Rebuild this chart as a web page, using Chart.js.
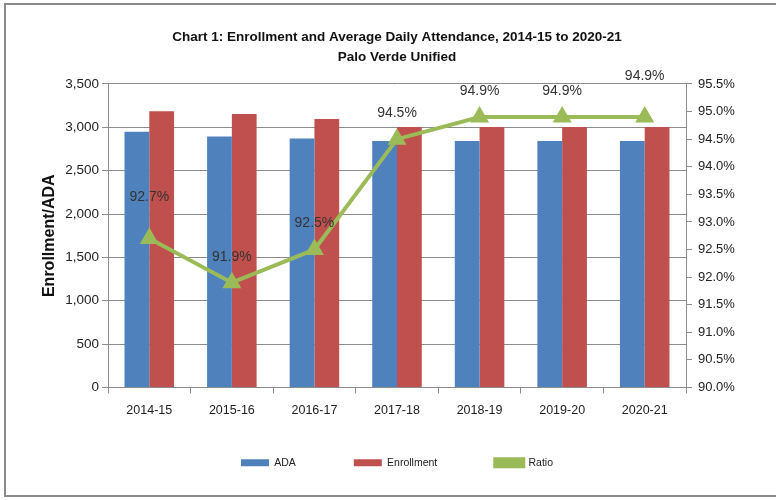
<!DOCTYPE html>
<html><head><meta charset="utf-8">
<script src="https://cdn.jsdelivr.net/npm/chart.js@4/dist/chart.umd.min.js"></script>
<style>html,body{margin:0;padding:0;background:#fff}#wrap{width:776px;height:500px}</style>
</head><body><div id="wrap"><canvas id="c" width="776" height="500"></canvas></div>
<script>
const categories = ['2014-15','2015-16','2016-17','2017-18','2018-19','2019-20','2020-21'];
const ada = [2950, 2895, 2872, 2842, 2842, 2842, 2842];
const enrollment = [3184, 3153, 3095, 3003, 3003, 3003, 3003];
const ratio = [92.7, 91.9, 92.5, 94.5, 94.9, 94.9, 94.9];
const titleLines = ['Chart 1: Enrollment and Average Daily Attendance, 2014-15 to 2020-21', 'Palo Verde Unified'];

const FONT = "'Liberation Sans', Arial, sans-serif";
const GRID = '#8c8c8c';
const TXT = '#222';

const frame = {
  id: 'frame',
  afterDraw(chart) {
    const ctx = chart.ctx;
    ctx.save();
    ctx.strokeStyle = '#8a8a8a';
    ctx.lineWidth = 2;
    ctx.strokeRect(5, 4, 790, 492);
    ctx.restore();
  }
};

const labelsPlugin = {
  id: 'ratioLabels',
  afterDatasetsDraw(chart) {
    const meta = chart.getDatasetMeta(2);
    const ctx = chart.ctx;
    ctx.save();
    ctx.font = "14px " + FONT;
    ctx.fillStyle = '#333';
    ctx.textAlign = 'center';
    ctx.textBaseline = 'middle';
    const n = meta.data.length;
    meta.data.forEach((pt, i) => {
      const off = (i === 0 || i === n - 1) ? 41 : 26;
      ctx.fillText(ratio[i].toFixed(1) + '%', pt.x, pt.y - off);
    });
    ctx.restore();
  }
};

new Chart(document.getElementById('c'), {
  data: {
    labels: categories,
    datasets: [
      { type: 'bar', label: 'ADA', data: ada, backgroundColor: '#4F81BD', yAxisID: 'y', order: 2,
        categoryPercentage: 0.6, barPercentage: 1.0 },
      { type: 'bar', label: 'Enrollment', data: enrollment, backgroundColor: '#C0504D', yAxisID: 'y', order: 2,
        categoryPercentage: 0.6, barPercentage: 1.0 },
      { type: 'line', label: 'Ratio', data: ratio, borderColor: '#9BBB59', backgroundColor: '#9BBB59',
        borderWidth: 4, pointStyle: 'triangle', pointRadius: 7, pointHoverRadius: 7, yAxisID: 'y1', order: 1,
        tension: 0 }
    ]
  },
  options: {
    responsive: false,
    animation: false,
    devicePixelRatio: 1,
    layout: { padding: { left: 38, right: 20, top: 23, bottom: 22 } },
    plugins: {
      title: { display: true, text: titleLines, font: { family: FONT, size: 13.5, weight: 'bold', lineHeight: 1.48 },
        color: '#111', padding: { top: 4, bottom: 17 } },
      legend: { position: 'bottom',
        labels: { boxWidth: 28, boxHeight: 7, padding: 58, font: { family: FONT, size: 10.5 }, color: '#222',
          sort: (a, b) => a.datasetIndex - b.datasetIndex } },
      tooltip: { enabled: false }
    },
    scales: {
      x: {
        grid: { display: true, drawOnChartArea: false, offset: true, tickLength: 6, color: GRID },
        border: { color: GRID, width: 1 },
        ticks: { font: { family: FONT, size: 12.5 }, color: TXT, padding: 10 },
        afterFit(s) { s.height = 12; s._computeLabelArea = () => undefined; }
      },
      y: {
        position: 'left', min: 0, max: 3500,
        ticks: { stepSize: 500, font: { family: FONT, size: 13.5 }, color: TXT, padding: 3,
          callback: v => v.toLocaleString('en-US') },
        grid: { color: GRID, tickLength: 6 },
        border: { color: GRID },
        title: { display: true, text: 'Enrollment/ADA', font: { family: FONT, size: 16, weight: 'bold' }, color: '#111', padding: 2 },
        afterFit(s) { s.width = 70; }
      },
      y1: {
        position: 'right', min: 90, max: 95.5,
        ticks: { stepSize: 0.5, font: { family: FONT, size: 13 }, color: TXT, padding: 6,
          callback: v => v.toFixed(1) + '%' },
        grid: { drawOnChartArea: false, color: GRID, tickLength: 6 },
        border: { color: GRID },
        afterFit(s) { s.width = 70; }
      }
    }
  },
  plugins: [frame, labelsPlugin]
});
</script>
</body></html>
